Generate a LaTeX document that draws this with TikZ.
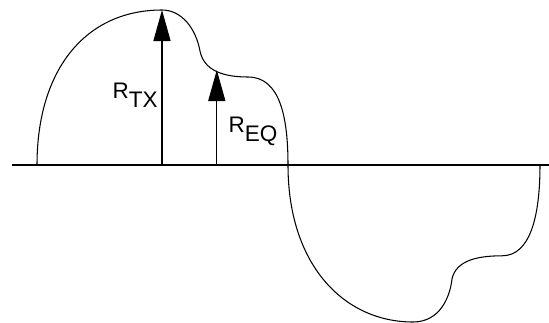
\documentclass[tikz,border=0pt]{standalone}
\usepackage{xcolor}
\usepackage{fontspec}
\setmainfont{Liberation Sans}
\usepackage{tikz}
\usetikzlibrary{arrows.meta, positioning, calc}

\begin{document}
\begin{tikzpicture}[scale=1.0, line width=0.75pt,
  vec/.style={-{Triangle[length=0.78cm, width=0.43cm]}},
  lbl/.style={anchor=base west, inner sep=0pt, font=\fontsize{16}{19}\selectfont}]

\useasboundingbox (0,-3.95) rectangle (13.725,4.125);

% axis
\coordinate (axl) at (0.3,0);
\coordinate (axr) at (13.725,0);
\draw (axl) -- (axr);

% curve
\draw (0.925,0) .. controls (0.925,2.4) and (2.15,3.875) .. (4.05,3.875)
  .. controls (4.55,3.875) and (4.9,3.4) .. (5.0,2.85)
  .. controls (5.1,2.35) and (5.6,2.2) .. (6.2,2.2)
  .. controls (7.0,2.2) and (7.2,1.2) .. (7.2,0)
  .. controls (7.2,-2.5) and (8.6,-3.925) .. (10.325,-3.925)
  .. controls (11.0,-3.925) and (11.25,-3.3) .. (11.3,-2.85)
  .. controls (11.4,-2.4) and (11.9,-2.27) .. (12.55,-2.27)
  .. controls (13.25,-2.27) and (13.5,-1.3) .. (13.5,0);

% R_TX
\coordinate (txbase) at (4.05,0);
\coordinate (txtop) at (4.05,3.875);
\draw[vec] (txbase) -- (txtop);
\node[lbl] (tx) at (2.8,1.675) {R\raisebox{-6.5pt}{TX}};

% R_EQ
\coordinate (eqbase) at (5.42,0);
\coordinate (eqtop) at (5.42,2.375);
\draw[vec] (eqbase) -- (eqtop);
\node[lbl] (eq) at (5.7,0.825) {R\raisebox{-6.5pt}{EQ}};

\end{tikzpicture}
\end{document}
